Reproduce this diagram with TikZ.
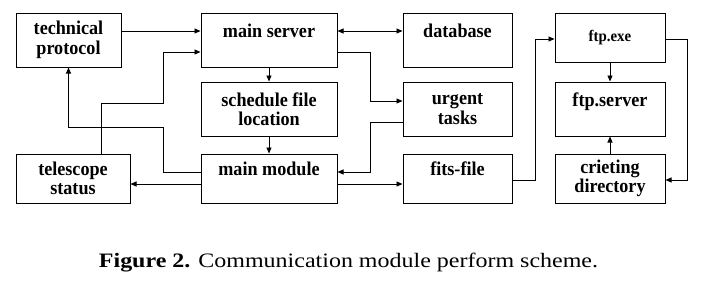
\documentclass[tikz,border=0pt]{standalone}
\usepackage{fontspec}
\setmainfont{Liberation Serif}
\newfontfamily\boxfont{Liberation Serif}[FakeStretch=0.93]
\newfontfamily\capfont{Liberation Serif}[FakeStretch=1.17]
\usetikzlibrary{arrows.meta}
\begin{document}
\begin{tikzpicture}[x=1pt,y=-1pt,
  box/.style={draw, line width=1pt, inner sep=0pt, align=center,
    font=\boxfont\fontsize{19.5}{19.5}\selectfont\bfseries},
  tall/.style={minimum height=54pt},
  short/.style={minimum height=49pt},
  conn/.style={line width=0.9pt, -{Triangle[length=6pt,width=5pt]}},
  conn2/.style={line width=0.9pt, {Triangle[length=6pt,width=5pt]}-{Triangle[length=6pt,width=5pt]}},
]
\useasboundingbox[fill=white] (0,0) rectangle (704,281);
% left column
\node[box, tall, minimum width=105pt] (tp) at (68.5,40) {technical\\protocol};
\node[box, short, minimum width=114pt] (ts) at (73,178.5) {telescope\\status};
% middle column
\node[box, tall, minimum width=136pt] (ms) at (269,40) {main server\\\mbox{}};
\node[box, tall, minimum width=136pt] (sfl) at (269,109) {schedule file\\location};
\node[box, short, minimum width=136pt] (mm) at (269,178.5) {main module\\\mbox{}};
% right-middle column
\node[box, tall, minimum width=109pt] (db) at (457.5,40) {database\\\mbox{}};
\node[box, tall, minimum width=109pt] (ut) at (457.5,109) {urgent\\tasks};
\node[box, short, minimum width=109pt] (ff) at (457.5,178.5) {fits-file\\\mbox{}};
% right column
\node[box, short, minimum width=110pt, font=\boxfont\fontsize{16}{17}\selectfont\bfseries] (fe) at (610,37.5) {ftp.exe};
\node[box, tall, minimum width=110pt] (fs) at (610,109) {ftp.server\\\mbox{}};
\node[box, short, minimum width=110pt] (cd) at (610,178.5) {crieting\\directory};
% caption
\node[anchor=base, inner sep=0pt, font=\capfont\fontsize{20.5}{22}\selectfont] (cap) at (348.5,267)
  {\textbf{Figure 2.} Communication module perform scheme.};

% connectors
\draw[conn] (tp.east |- 0,31) -- (ms.west |- 0,31);
\draw[conn2] (ms.east |- 0,31) -- (db.west |- 0,31);
\draw[conn] (ms.east |- 0,52) -| (370,101) -- (ut.west |- 0,101);
\draw[conn] (ut.west |- 0,122) -| (370,172) -- (mm.east |- 0,172);
\draw[conn] (mm.east |- 0,184) -- (ff.west |- 0,184);
\draw[conn] (ff.east |- 0,180) -| (535,39) -- (fe.west |- 0,39);
\draw[conn] (fe.east |- 0,39) -| (687,180) -- (cd.east |- 0,180);
\draw[conn] (fe.south) -- (fs.north);
\draw[conn] (cd.north) -- (fs.south);
\draw[conn] (ms.south) -- (sfl.north);
\draw[conn] (sfl.south) -- (mm.north);
\draw[conn] (mm.west |- 0,172) -| (163,127) -| (tp.south);
\draw[conn] (mm.west |- 0,184) -- (ts.east |- 0,184);
\draw[conn] (ts.north -| 101,0) |- (163,103) |- (ms.west |- 0,52);
\end{tikzpicture}
\end{document}
